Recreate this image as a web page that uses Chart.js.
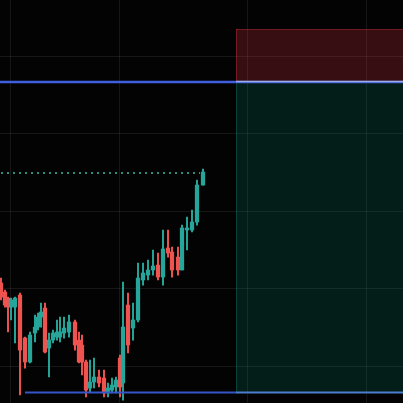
<!DOCTYPE html>
<html>
<head>
<meta charset="utf-8">
<script src="https://cdn.jsdelivr.net/npm/chart.js@4.4.1/dist/chart.umd.min.js"></script>
<style>
html,body{margin:0;padding:0;background:#030303;}
canvas{display:block;}
</style>
</head>
<body>
<canvas id="c" width="403" height="403"></canvas>
<script>
// bar times (minutes from window start)
const times  = [3,15,24,33,45,60,75,90,105,114,123,135,147,159,171,180,192,207,225,237,246,258,270,282,297,312,324,336,348,360,
                369,384,399,414,429,444,459,474,489,504,516,534,546,561,576,591,609];
const opens  = [110.71,109.55,108.77,107.61,107.61,109.16,103.61,100.52,104.26,105.03,106.32,107.48,102.32,103.35,103.74,103.74,104.26,104.39,105.68,103.35,102.71,100.52,97.16,97.94,98.58,98.45,96.52,96.90,97.29,101.03,
                97.81,107.87,104.90,105.94,111.10,111.74,112.39,113.03,111.48,115.23,114.71,114.06,112.39,117.55,117.55,118.58,123.35];
const highs  = [111.35,109.81,108.90,108.77,108.90,109.42,103.74,104.39,106.58,106.84,108.13,108.13,104.26,104.65,105.94,106.32,106.32,106.58,105.94,104.39,104.00,100.77,100.77,101.03,99.48,99.48,97.81,98.45,98.58,101.42,
                110.84,109.42,108.13,113.29,113.29,113.68,114.97,114.58,117.55,117.55,115.35,115.35,118.19,119.23,120.13,124.00,125.42];
const lows   = [108.52,107.61,104.39,105.94,102.97,96.26,99.74,100.39,103.10,104.65,105.03,101.68,98.58,102.97,103.35,103.10,103.61,103.74,102.06,100.39,98.84,96.00,96.65,97.16,97.29,96.00,96.00,96.52,96.52,96.00,
                95.61,101.68,103.35,105.68,110.45,111.10,111.74,111.10,110.45,114.06,111.48,111.74,112.39,114.97,117.29,118.19,123.35];
const closes = [108.90,107.87,107.61,108.52,108.77,102.06,100.52,104.00,105.03,106.32,106.97,101.81,103.35,104.26,104.39,104.39,104.90,105.68,102.71,100.52,100.52,96.90,97.94,98.58,97.81,96.52,97.16,97.55,98.19,97.29,
                105.03,102.71,105.94,111.35,112.00,112.39,112.90,111.48,115.10,114.58,112.39,112.39,117.81,117.81,118.58,123.35,125.03];

// axis ranges and grid positions
const timeRange  = [0, 1209];
const priceRange = [95.23, 147.23];
const gridTimes  = [30, 357, 741, 1098];
const gridPrices = [100, 110, 120, 130, 140];

// position tool (short) and levels
const boxStartTime = 708;
const entryPrice   = 136.65;
const stopPrice    = 143.48;
const targetPrice  = 96.58;
const lineStartTime = 75;
const lastPrice    = 124.90;
const lastPriceEnd = 600;

const UP = '#26a69a', DOWN = '#ef5350';
const colors = closes.map((c,i)=> c >= opens[i] ? UP : DOWN);

const wickData = times.map((t,i)=>({x:t, y:[lows[i], highs[i]]}));
const bodyData = times.map((t,i)=>{
  let lo = Math.min(opens[i], closes[i]), hi = Math.max(opens[i], closes[i]);
  if (hi - lo < 0.15) hi = lo + 0.15;
  return {x:t, y:[lo, hi]};
});

const overlay = {
  id:'overlay',
  beforeDraw(chart){
    const {ctx, width, height} = chart;
    ctx.save(); ctx.fillStyle = '#030303'; ctx.fillRect(0,0,width,height); ctx.restore();
  },
  beforeDatasetsDraw(chart){
    const {ctx, scales:{x,y}} = chart;
    const x0 = x.getPixelForValue(boxStartTime), x1 = x.getPixelForValue(timeRange[1]);
    const yS = y.getPixelForValue(stopPrice), yE = y.getPixelForValue(entryPrice), yT = y.getPixelForValue(targetPrice);
    ctx.save();
    ctx.fillStyle = 'rgba(242,54,69,0.22)';
    ctx.fillRect(x0, yS, x1-x0, yE-yS);
    ctx.fillStyle = 'rgba(8,153,129,0.18)';
    ctx.fillRect(x0, yE, x1-x0, yT-yE);
    ctx.strokeStyle = 'rgba(242,54,69,0.35)'; ctx.lineWidth = 1;
    ctx.beginPath(); ctx.moveTo(x0, yS+0.5); ctx.lineTo(x1, yS+0.5); ctx.stroke();
    ctx.beginPath(); ctx.moveTo(x0+0.5, yS); ctx.lineTo(x0+0.5, yE); ctx.stroke();
    ctx.strokeStyle = 'rgba(8,153,129,0.3)';
    ctx.beginPath(); ctx.moveTo(x0+0.5, yE); ctx.lineTo(x0+0.5, yT); ctx.stroke();
    ctx.restore();
  },
  afterDatasetsDraw(chart){
    const {ctx, scales:{x,y}} = chart;
    const xa = x.getPixelForValue(timeRange[0]), xb = x.getPixelForValue(timeRange[1]);
    const x0 = x.getPixelForValue(boxStartTime);
    ctx.save();
    // dotted last price line
    const yL = y.getPixelForValue(lastPrice);
    ctx.strokeStyle = '#2e8f7c'; ctx.lineWidth = 2; ctx.setLineDash([2,4]);
    ctx.beginPath(); ctx.moveTo(xa+1, yL); ctx.lineTo(x.getPixelForValue(lastPriceEnd), yL); ctx.stroke();
    ctx.setLineDash([]);
    // entry line
    const yE = y.getPixelForValue(entryPrice);
    ctx.strokeStyle = '#3f5fe0'; ctx.lineWidth = 2.5;
    ctx.beginPath(); ctx.moveTo(xa, yE); ctx.lineTo(xb, yE); ctx.stroke();
    ctx.strokeStyle = 'rgba(190,195,230,0.75)'; ctx.lineWidth = 1.5;
    ctx.beginPath(); ctx.moveTo(x0, yE-0.5); ctx.lineTo(xb, yE-0.5); ctx.stroke();
    // target line
    const yT = y.getPixelForValue(targetPrice);
    ctx.strokeStyle = '#3556c8'; ctx.lineWidth = 2;
    ctx.beginPath(); ctx.moveTo(x.getPixelForValue(lineStartTime), yT); ctx.lineTo(x0, yT); ctx.stroke();
    ctx.strokeStyle = '#4a7fd0';
    ctx.beginPath(); ctx.moveTo(x0, yT); ctx.lineTo(xb, yT); ctx.stroke();
    ctx.restore();
  }
};

const gridOpts = {color:'rgba(255,255,255,0.08)', lineWidth:1, drawTicks:false, offset:false};

new Chart(document.getElementById('c'), {
  type:'bar',
  data:{
    datasets:[
      {label:'wick', data:wickData, backgroundColor:colors, borderWidth:0, barThickness:1.3, grouped:false, order:2},
      {label:'body', data:bodyData, backgroundColor:colors, borderWidth:0, barThickness:3.6, grouped:false, order:1}
    ]
  },
  options:{
    responsive:false,
    animation:false,
    devicePixelRatio:1,
    layout:{padding:0},
    plugins:{legend:{display:false}, tooltip:{enabled:false}},
    scales:{
      x:{type:'linear', min:timeRange[0], max:timeRange[1], offset:false,
         ticks:{display:false}, grid:gridOpts, border:{display:false},
         afterBuildTicks:s=>{ s.ticks = gridTimes.map(v=>({value:v})); }},
      y:{type:'linear', min:priceRange[0], max:priceRange[1],
         ticks:{display:false}, grid:gridOpts, border:{display:false},
         afterBuildTicks:s=>{ s.ticks = gridPrices.map(v=>({value:v})); }}
    }
  },
  plugins:[overlay]
});
</script>
</body>
</html>
